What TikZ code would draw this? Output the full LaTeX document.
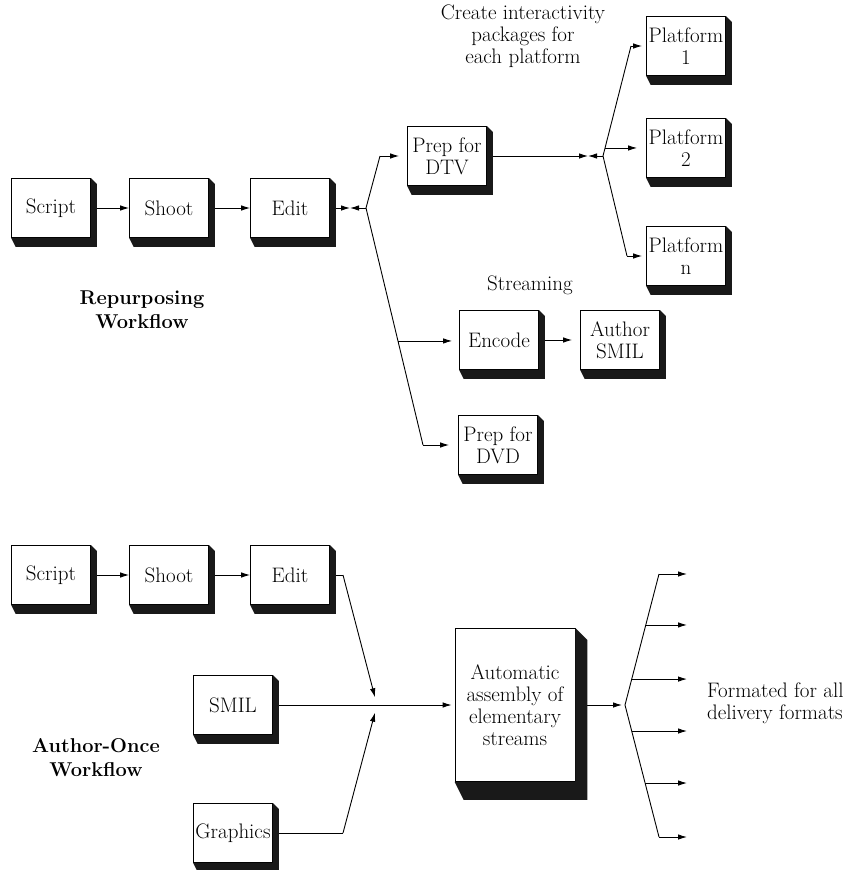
\documentclass[tikz,border=0pt]{standalone}
\usetikzlibrary{arrows.meta,calc}
\newcommand\dfont{\fontsize{21}{22}\selectfont}
\newcommand\bdfont{\fontsize{20}{24}\selectfont\bfseries}
\begin{document}
\begin{tikzpicture}[x=1pt,y=-1pt,
  box/.style={draw, line width=0.8pt, fill=white, minimum width=79pt, minimum height=59pt, inner sep=0pt, align=center, font=\dfont},
  lbl/.style={align=center, font=\dfont, inner sep=0pt},
  blbl/.style={align=center, font=\bdfont, inner sep=0pt},
  conn/.style={line width=0.9pt},
  arr/.style={line width=0.9pt, -{Latex[length=9pt,width=5.5pt]}},
  shade/.style={fill=black!90}
]
\useasboundingbox (0,0) rectangle (857,870);

% ---------- Repurposing workflow ----------
\node[box] (script) at (51,208) {Script};
\node[box] (shoot) at (169,208) {Shoot};
\node[box] (edit) at (290,208) {Edit};
\node[box] (dtv) at (447,156) {Prep for\\DTV};
\node[box] (p1) at (686,46) {Platform\\1};
\node[box] (p2) at (686,148) {Platform\\2};
\node[box] (pn) at (686,256) {Platform\\n};
\node[box] (enc) at (499,340) {Encode};
\node[box] (asmil) at (620,340) {Author\\SMIL};
\node[box] (dvd) at (498,445) {Prep for\\DVD};

\node[lbl] (cap1) at (523,36) {Create interactivity\\packages for\\each platform};
\node[lbl] (cap2) at (530,285) {Streaming};
\node[blbl] (rw) at (142,310) {Repurposing\\Workflow};

\coordinate (m1) at (350,208);
\coordinate (j1) at (366,208);
\coordinate (b1) at (380,156);
\coordinate (b2) at (423,445);
\coordinate (m2) at (588,156);
\coordinate (j2) at (603,156);
\coordinate (b3) at (631,46);
\coordinate (b4) at (627,256);

\draw[arr] (script.east) -- (shoot.west);
\draw[arr] (shoot.east) -- (edit.west);
\draw[arr] (edit.east) -- (m1);
\draw[arr] (j1) -- (m1);
\draw[conn] (j1) -- (b1);
\draw[arr, shorten >=8pt] (b1) -- (dtv.west);
\draw[conn] (j1) -- (b2);
\draw[arr, shorten >=9pt] (b2) -- (dvd.west);
\coordinate (e1) at ($(j1)!0.561!(b2)$);
\draw[arr, shorten >=7pt] (e1) -- (e1 -| enc.west);
\draw[arr, shorten >=8pt] (enc.east) -- (asmil.west);
\draw[arr] (dtv.east) -- (m2);
\draw[arr] (j2) -- (m2);
\draw[conn] (j2) -- (b3);
\draw[arr, shorten >=4pt] (b3) -- (p1.west);
\coordinate (e2) at ($(j2)!0.073!(b3)$);
\draw[arr, shorten >=9pt] (e2) -- (e2 -| p2.west);
\draw[conn] (j2) -- (b4);
\draw[arr, shorten >=4pt] (b4) -- (pn.west);

% ---------- Author-once workflow ----------
\node[box] (script2) at (51,575) {Script};
\node[box] (shoot2) at (169,575) {Shoot};
\node[box] (edit2) at (290,575) {Edit};
\node[box] (smil) at (233,705) {SMIL};
\node[box] (gfx) at (233,833) {Graphics};
\node[box, minimum width=120pt, minimum height=153pt] (auto) at (515,705) {Automatic\\assembly of\\elementary\\streams};

\node[blbl] (aow) at (96,758) {Author-Once\\Workflow};
\node[lbl, anchor=west, align=left] (fmt) at (707,703) {Formated for all\\delivery formats};

\coordinate (b5) at (343,575);
\coordinate (j3) at (377,705);
\coordinate (b6) at (343,833);
\coordinate (j4) at (625,705);
\coordinate (f1) at (659,574);
\coordinate (f6) at (659,837);
\coordinate (o1) at (687,574);

\draw[arr] (script2.east) -- (shoot2.west);
\draw[arr] (shoot2.east) -- (edit2.west);
\draw[conn] (edit2.east) -- (b5);
\draw[arr, shorten >=8pt] (b5) -- (j3);
\draw[conn] (gfx.east) -- (b6);
\draw[arr, shorten >=8pt] (b6) -- (j3);
\draw[arr, shorten >=3pt] (smil.east) -- (auto.west);
\draw[arr, shorten >=3pt] (auto.east) -- (j4);
\draw[conn] (f1) -- (j4) -- (f6);
\coordinate (fa) at ($(j4)!0.611!(f1)$);
\coordinate (fb) at ($(j4)!0.198!(f1)$);
\coordinate (fc) at ($(j4)!0.197!(f6)$);
\coordinate (fd) at ($(j4)!0.591!(f6)$);
\draw[arr] (f1) -- (o1);
\draw[arr] (fa) -- (fa -| o1);
\draw[arr] (fb) -- (fb -| o1);
\draw[arr] (fc) -- (fc -| o1);
\draw[arr] (fd) -- (fd -| o1);
\draw[arr] (f6) -- (f6 -| o1);

% ---------- extruded shadows ----------
\foreach \n/\a/\b in {script/6/9,shoot/6/9,edit/6/9,dtv/6/9,p1/6/9,p2/6/9,pn/6/9,enc/6/9,asmil/6/9,dvd/6/9,script2/6/9,shoot2/6/9,edit2/6/9,smil/6/9,gfx/6/9,auto/12/18}{
  \fill[shade] (\n.north east) -- ($(\n.north east)+(\a,\a)$) -- ($(\n.south east)+(\a,\b)$)
     -- ($(\n.south west)+(0.75*\a,\b)$) -- (\n.south west) -- (\n.south east) -- cycle;
}
\end{tikzpicture}
\end{document}
